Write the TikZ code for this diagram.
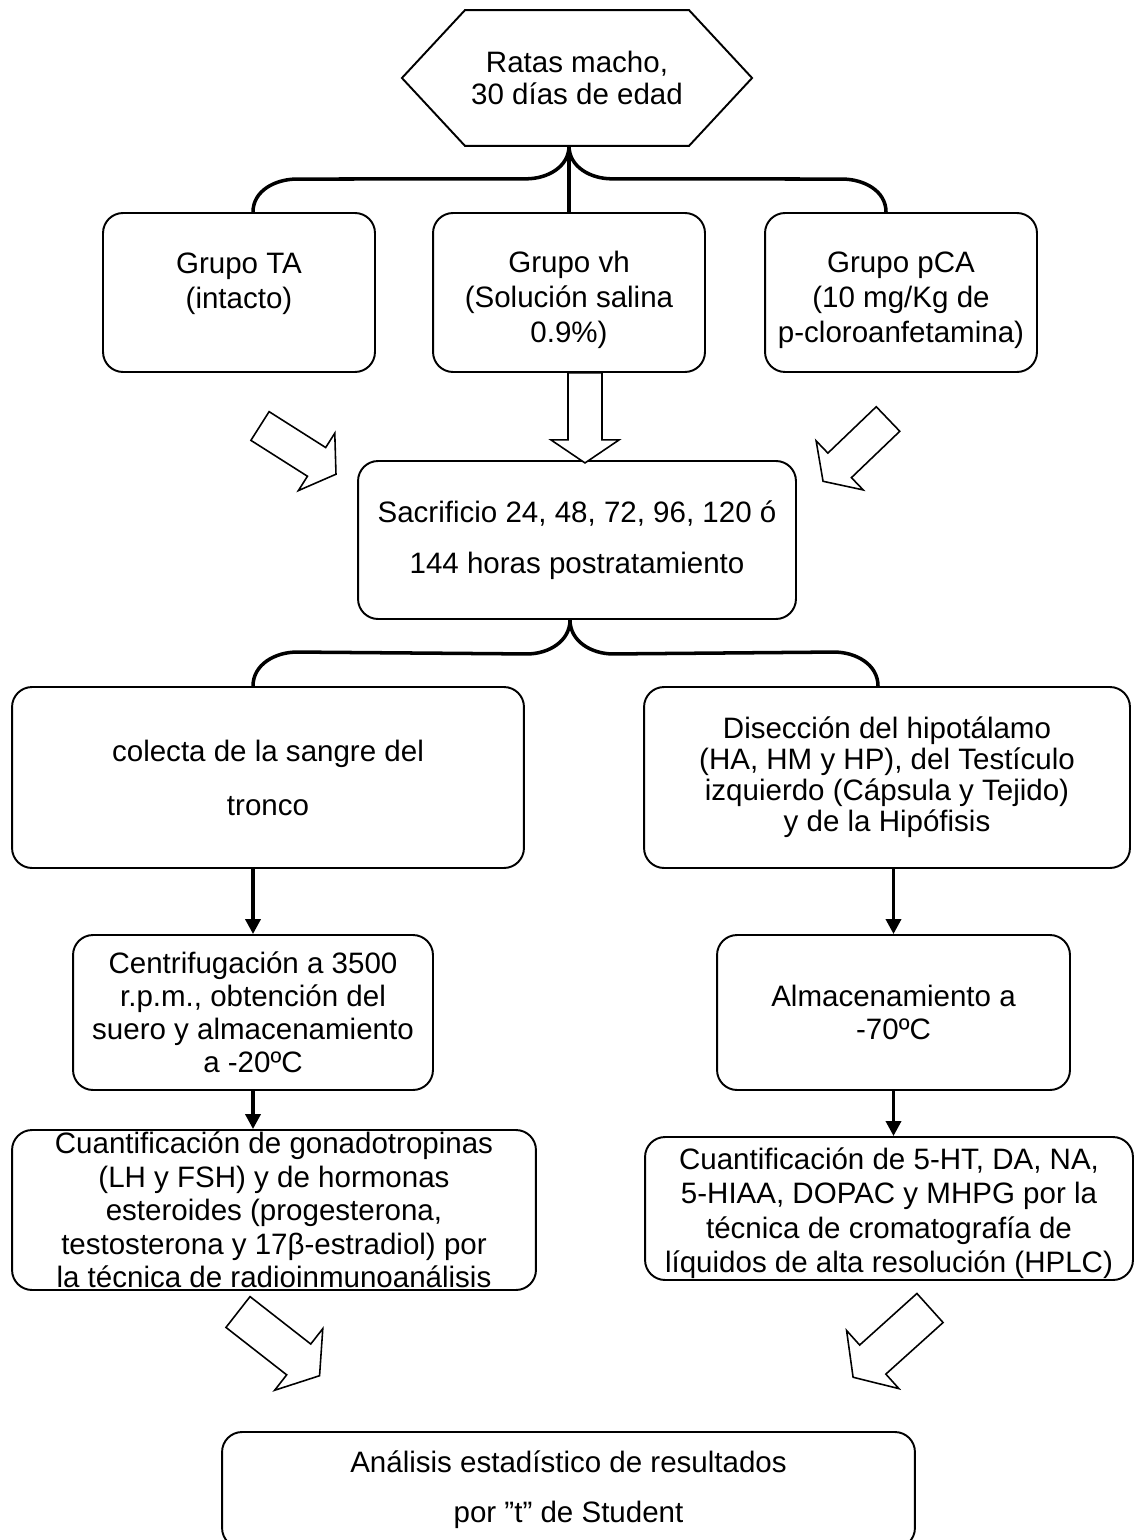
\documentclass[tikz,border=0pt]{standalone}
\usepackage{fontspec}
\setmainfont{Liberation Sans}
\usetikzlibrary{arrows.meta,positioning,calc}

\newcommand{\lift}[1]{\rule{0pt}{#1}}

\begin{document}
\begin{tikzpicture}[
  x=0.02cm, y=-0.02cm,
  leading/.style={font=\fontsize{16.8pt}{#1}\selectfont},
  box/.style={draw, line width=1.1pt, rounded corners=0.4cm, align=center, inner sep=0pt},
  brace/.style={line width=2pt},
  flow/.style={line width=2pt, -{Triangle[length=0.3cm,width=0.3cm]}},
  pics/hollow/.style={code={
    \draw[line width=0.9pt, fill=white] (0,-17) -- (67,-17) -- (67,-34) -- (90,0)
      -- (67,34) -- (67,17) -- (0,17) -- cycle;}}
]
\useasboundingbox (0,0) rectangle (1135,1540);

% start: hexagon
\node[leading=18.6pt, align=center, minimum width=3.8cm, minimum height=2.7cm] (rats) at (577,78)
  {Ratas macho,\\30 días de edad};
\draw[line width=1.1pt] (rats.north west) -- (rats.north east) -- ($(rats.east)+(63,0)$)
  -- (rats.south east) -- (rats.south west) -- ($(rats.west)+(-63,0)$) -- cycle;

% groups
\node[box, leading=19.9pt, minimum width=5.44cm, minimum height=3.18cm] (ta) at (239,292.5)
  {\lift{18pt}Grupo TA\\(intacto)\\\mbox{}};
\node[box, leading=19.9pt, minimum width=5.44cm, minimum height=3.18cm] (vh) at (569,292.5)
  {\lift{20.5pt}Grupo vh\\(Solución salina\\0.9\%)};
\node[box, leading=19.9pt, minimum width=5.44cm, minimum height=3.18cm] (pca) at (901,292.5)
  {\lift{20.5pt}Grupo pCA\\(10 mg/Kg de\\p-cloroanfetamina)};

\coordinate (fork1) at (vh.north |- rats.south);
\draw[brace] (fork1) -- (vh.north);
\draw[brace] (fork1) to[out=-90,in=0] ++(-43,33) -- ($(ta.north)+(58,-33)$)
  to[out=180,in=90] ($(ta.north)+(14,0)$);
\draw[brace] (fork1) to[out=-90,in=180] ++(43,33) -- ($(pca.north)+(-59,-33)$)
  to[out=0,in=90] ($(pca.north)+(-15,0)$);

% sacrifice
\node[box, leading=29pt, minimum width=8.76cm, minimum height=3.16cm] (sac) at (577,540)
  {Sacrificio 24, 48, 72, 96, 120 ó\\144 horas postratamiento};

\pic[rotate=-32.4] at (260,426) {hollow};
\pic[rotate=-90] at ($(vh.south)+(16,0)$) {hollow};
\pic[rotate=-136.2] at (888,419) {hollow};

% two branches
\node[box, leading=30.7pt, minimum width=10.24cm, minimum height=3.62cm] (blood) at (268,777.5)
  {colecta de la sangre del\\tronco};
\node[box, leading=17.6pt, minimum width=9.72cm, minimum height=3.62cm] (dissect) at (887,777.5)
  {Disección del hipotálamo\\(HA, HM y HP), del Testículo\\izquierdo (Cápsula y Tejido)\\y de la Hipófisis};

\coordinate (fork2) at ($(sac.south)+(-7,0)$);
\draw[brace] (fork2) to[out=-90,in=0] ++(-43,34) -- ($(blood.north)+(29,-34)$)
  to[out=180,in=90] ($(blood.north)+(-15,0)$);
\draw[brace] (fork2) to[out=-90,in=180] ++(43,34) -- ($(dissect.north)+(-53,-34)$)
  to[out=0,in=90] ($(dissect.north)+(-9,0)$);

\node[box, leading=18.8pt, minimum width=7.2cm, minimum height=3.1cm] (spin) at (253,1012.5)
  {Centrifugación a 3500\\r.p.m., obtención del\\suero y almacenamiento\\a -20ºC};
\node[box, leading=18.8pt, minimum width=7.06cm, minimum height=3.1cm] (store) at (893.5,1012.5)
  {Almacenamiento a\\-70ºC};

% quantification
\node[box, leading=19pt, minimum width=10.48cm, minimum height=3.2cm] (ria) at (274,1210)
  {Cuantificación de gonadotropinas\\(LH y FSH) y de hormonas\\esteroides (progesterona,\\testosterona y 17β-estradiol) por\\la técnica de radioinmunoanálisis};
\node[box, minimum width=9.76cm, minimum height=2.86cm] (hplc) at (889,1208.5) {};
\node[leading=19.6pt, align=center, inner sep=0pt, below=0.22cm of hplc.north] (hplc-text)
  {Cuantificación de 5-HT, DA, NA,\\5-HIAA, DOPAC y MHPG por la\\técnica de cromatografía de\\líquidos de alta resolución (HPLC)};

\draw[flow] (spin.north |- blood.south) -- (spin.north);
\draw[flow] (store.north |- dissect.south) -- (store.north);
\draw[flow] (spin.south) -- (spin.south |- ria.north);
\draw[flow] (store.south) -- (store.south |- hplc.north);

\pic[rotate=-38, scale=1.15] at (238,1312) {hollow};
\pic[rotate=-138, scale=1.15] at (930,1308) {hollow};

% result
\node[box, leading=28.5pt, minimum width=13.86cm, minimum height=2.32cm] (stats) at (568.5,1490)
  {Análisis estadístico de resultados\\por ”t” de Student};
\end{tikzpicture}
\end{document}
